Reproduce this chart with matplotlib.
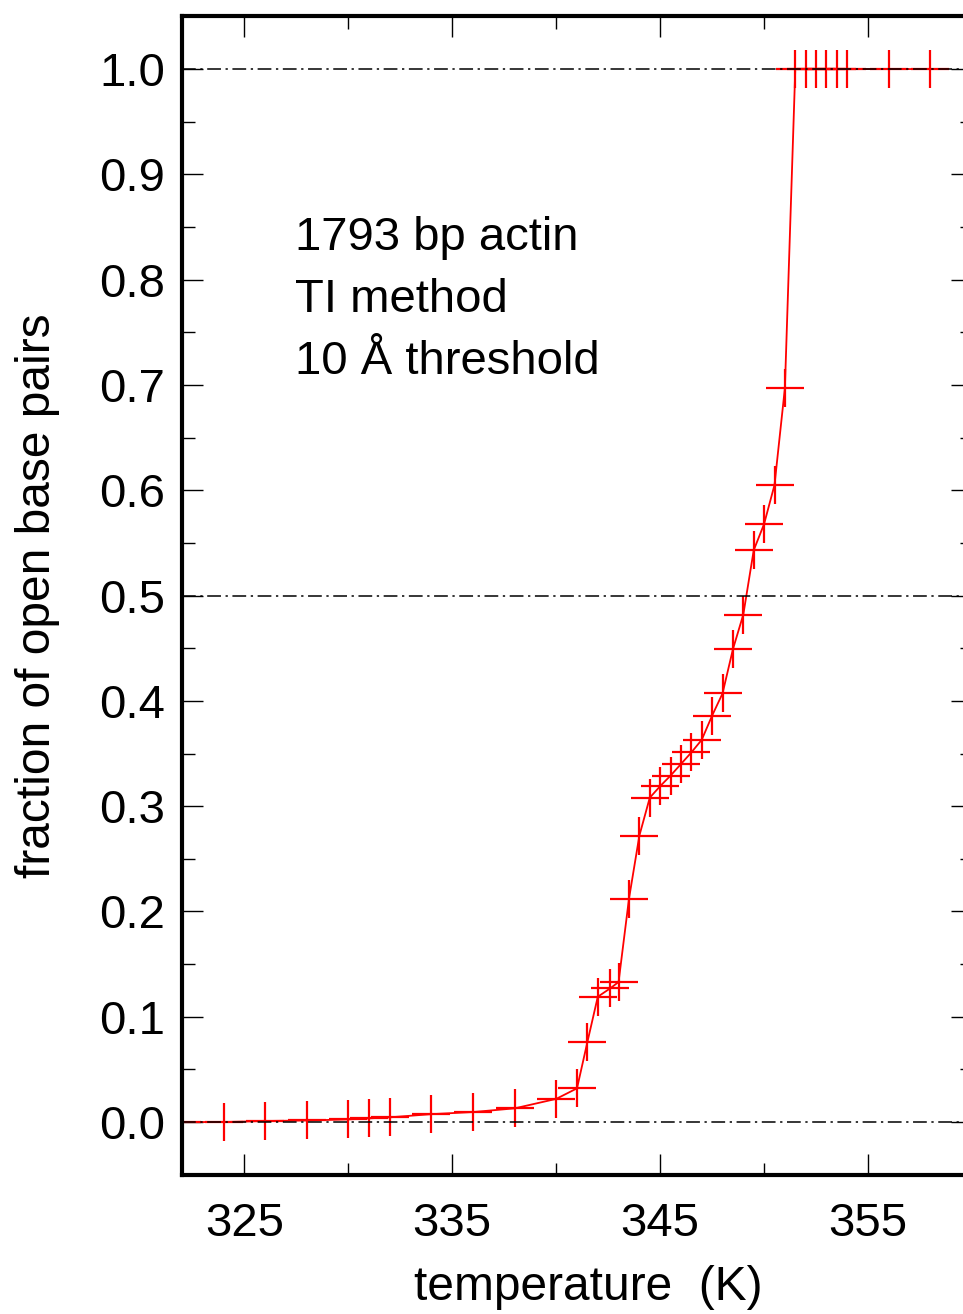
import matplotlib
matplotlib.use("Agg")
import matplotlib.pyplot as plt
from matplotlib.ticker import MultipleLocator

# melting curve: temperature (K) vs fraction of open base pairs
temperature = [322, 324, 326, 328, 330, 331, 332, 334, 336, 338, 340, 341,
               341.5, 342, 342.6, 343, 343.5, 344, 344.5, 345, 345.5, 346,
               346.5, 347, 347.5, 348, 348.5, 349, 349.5, 350, 350.5, 351,
               351.5, 352, 352.5, 353, 353.5, 354, 356, 358]
fraction_open = [0.0, 0.0, 0.001, 0.0015, 0.0025, 0.0035, 0.0045, 0.0075,
                 0.0095, 0.013, 0.022, 0.032, 0.076, 0.119, 0.127, 0.133,
                 0.212, 0.272, 0.308, 0.319, 0.329, 0.340, 0.351, 0.363,
                 0.386, 0.407, 0.449, 0.482, 0.543, 0.568, 0.605, 0.697,
                 1.0, 1.0, 1.0, 1.0, 1.0, 1.0, 1.0, 1.0]
ref_levels = [0.0, 0.5, 1.0]
annotation = ["1793 bp actin", "TI method", "10 \u00c5 threshold"]

plt.rcParams["font.family"] = ["Liberation Sans", "DejaVu Sans"]

W, H = 963, 1314
fig = plt.figure(figsize=(W / 100, H / 100), dpi=100)
left, right, top, bottom = 182, 972, 16.4, 1174.7
ax = fig.add_axes([left / W, 1 - bottom / H, (right - left) / W, (bottom - top) / H])

ax.plot(temperature, fraction_open, color="red", lw=1.3, marker="+",
        ms=27, mew=1.6, zorder=2)

for lvl in ref_levels:
    ax.axhline(lvl, color="black", lw=1.1, dashes=(9, 3, 1.5, 3), zorder=3)

ax.set_xlim(322, 360)
ax.set_ylim(-0.05, 1.05)
ax.yaxis.set_major_locator(MultipleLocator(0.1))
ax.yaxis.set_minor_locator(MultipleLocator(0.05))
ax.yaxis.set_major_formatter(plt.FuncFormatter(lambda v, p: f"{v:.1f}"))
# 325, 335, ... are the labelled ticks
ax.set_xticks([325, 335, 345, 355])
ax.set_xticks([330, 340, 350], minor=True)

ax.tick_params(which="both", direction="in", top=True, right=True,
               width=1.0, labelsize=34)
ax.tick_params(which="major", length=15)
ax.tick_params(which="minor", length=9)
ax.tick_params(axis="y", pad=12)
ax.tick_params(axis="x", pad=20)
for s in ax.spines.values():
    s.set_linewidth(3)

ax.set_xlabel("temperature  (K)", fontsize=34.5)
ax.xaxis.set_label_coords(0.514, -0.078)
ax.set_ylabel("fraction of open base pairs", fontsize=34.5, labelpad=28)

for i, line in enumerate(annotation):
    ax.text(295 / W, 1 - (250 + 62 * i) / H, line, fontsize=34,
            transform=fig.transFigure, ha="left", va="baseline")

fig.savefig("out.png", dpi=100)
